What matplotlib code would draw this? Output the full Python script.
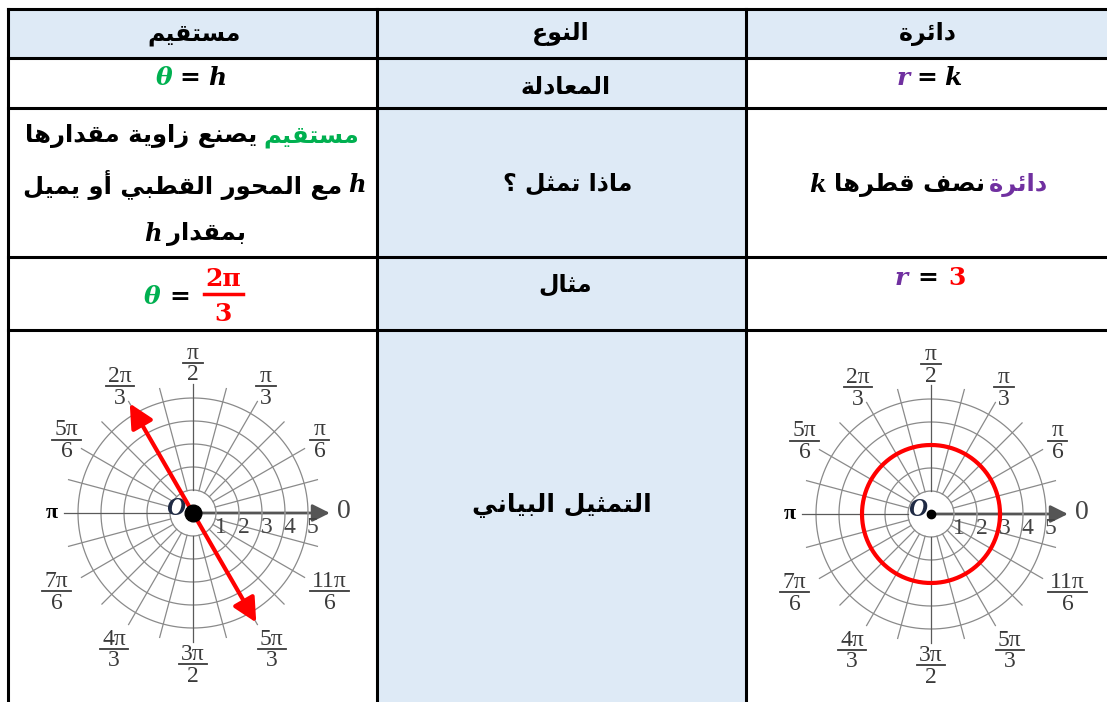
import numpy as np
import matplotlib
matplotlib.use("Agg")
import matplotlib.pyplot as plt
from matplotlib.patches import Rectangle, FancyArrowPatch

# Textos da tabela (ordem logica, da direita para a esquerda)
CABECALHO = ["مستقيم", "النوع", "دائرة"]
LINHAS_MEIO = ["المعادلة", "ماذا تمثل ؟", "مثال", "التمثيل البياني"]
TEXTO_RETA = ["يصنع زاوية مقدارها", "مع المحور القطبي أو يميل", "بمقدار"]
TEXTO_CIRCULO = "نصف قطرها"

# Grelha polar
RAIOS = [1, 2, 3, 4, 5]
ANGULOS_GRELHA = np.arange(0, 360, 15)
ANGULOS_ROTULOS = [0, 30, 60, 90, 120, 150, 180, 210, 240, 270, 300, 330]
ROTULOS_NUM = ["0", "π", "π", "π", "2π", "5π", "π", "7π", "4π", "3π", "5π", "11π"]
ROTULOS_DEN = ["", "6", "3", "2", "3", "6", "", "6", "3", "2", "3", "6"]

# Exemplos
THETA_RETA = 2 * np.pi / 3
RAIO_CIRCULO = 3

VERDE = "#00B050"
ROXO = "#7030A0"
VERMELHO = "#FF0000"
AZUL = "#DEEAF6"
CINZA = "#8a8a8a"

# Formas de apresentacao arabes (isolada, final, inicial, medial)
_DUPLA = {'ئ': 0xFE89, 'ب': 0xFE8F, 'ت': 0xFE95, 'ث': 0xFE99, 'ج': 0xFE9D, 'ح': 0xFEA1,
          'خ': 0xFEA5, 'س': 0xFEB1, 'ش': 0xFEB5, 'ص': 0xFEB9, 'ض': 0xFEBD, 'ط': 0xFEC1,
          'ظ': 0xFEC5, 'ع': 0xFEC9, 'غ': 0xFECD, 'ف': 0xFED1, 'ق': 0xFED5, 'ك': 0xFED9,
          'ل': 0xFEDD, 'م': 0xFEE1, 'ن': 0xFEE5, 'ه': 0xFEE9, 'ي': 0xFEF1}
_DIREITA = {'آ': 0xFE81, 'أ': 0xFE83, 'ؤ': 0xFE85, 'إ': 0xFE87, 'ا': 0xFE8D, 'ة': 0xFE93,
            'د': 0xFEA9, 'ذ': 0xFEAB, 'ر': 0xFEAD, 'ز': 0xFEAF, 'و': 0xFEED, 'ى': 0xFEEF}
FORMAS = {}
for c, b in _DUPLA.items():
    FORMAS[c] = tuple(chr(b + i) for i in range(4))
for c, b in _DIREITA.items():
    FORMAS[c] = (chr(b), chr(b + 1))


def ar(s):
    # Junta as letras e inverte para a ordem visual (esquerda -> direita).
    res = []
    n = len(s)
    for i, c in enumerate(s):
        if c not in FORMAS:
            res.append(c)
            continue
        f = FORMAS[c]
        prev = s[i - 1] if i > 0 else ''
        nxt = s[i + 1] if i + 1 < n else ''
        jp = prev in FORMAS and len(FORMAS[prev]) == 4
        jn = len(f) == 4 and nxt in FORMAS
        if jp and jn:
            res.append(f[3])
        elif jp:
            res.append(f[1])
        elif jn:
            res.append(f[2])
        else:
            res.append(f[0])
    return ''.join(res)[::-1]


fig = plt.figure(figsize=(11.07, 7.02), dpi=100)
ax = fig.add_axes([0, 0, 1, 1])
ax.set_xlim(0, 1107)
ax.set_ylim(702, 0)
ax.axis("off")
renderer = fig.canvas.get_renderer()

ARAB = dict(family="DejaVu Sans", fontweight="bold")
MATH_I = dict(family="DejaVu Serif", fontweight="bold", style="italic")
MATH_U = dict(family="DejaVu Serif", fontweight="bold")
SERIF = "Liberation Serif"


def linha(cx, y, partes, size):
    # partes: (texto, cor, fonte) ou um numero para espaco em pixeis
    objs = []
    total = 0
    for p in partes:
        if isinstance(p, (int, float)):
            objs.append(p)
            total += p
            continue
        txt, cor, fonte = p
        t = ax.text(0, y, txt, color=cor, fontsize=size, ha="left", va="center", **fonte)
        w = t.get_window_extent(renderer=renderer).width
        objs.append((t, w))
        total += w
    x = cx - total / 2
    for o in objs:
        if isinstance(o, (int, float)):
            x += o
            continue
        t, w = o
        t.set_x(x)
        x += w


# Tabela
COL_X = [8, 377, 746, 1115]
ROW_Y = [9, 58, 108, 257, 330, 720]
ax.add_patch(Rectangle((COL_X[0], ROW_Y[0]), COL_X[3] - COL_X[0], ROW_Y[1] - ROW_Y[0],
                       facecolor=AZUL, edgecolor="none"))
ax.add_patch(Rectangle((COL_X[1], ROW_Y[1]), COL_X[2] - COL_X[1], ROW_Y[5] - ROW_Y[1],
                       facecolor=AZUL, edgecolor="none"))
for y in ROW_Y[:5]:
    ax.plot([COL_X[0], COL_X[3]], [y, y], color="black", lw=2.2, solid_capstyle="projecting")
for x in COL_X[:3]:
    ax.plot([x, x], [ROW_Y[0], ROW_Y[5]], color="black", lw=2.2, solid_capstyle="projecting")

# Cabecalho
linha(194, 34, [(ar(CABECALHO[0]), "black", ARAB)], 17)
linha(561, 34, [(ar(CABECALHO[1]), "black", ARAB)], 17)
linha(928, 34, [(ar(CABECALHO[2]), "black", ARAB)], 17)

# Coluna do meio
linha(566, 86, [(ar(LINHAS_MEIO[0]), "black", ARAB)], 17)
linha(568, 184, [(ar(LINHAS_MEIO[1]), "black", ARAB)], 17)
linha(565, 285, [(ar(LINHAS_MEIO[2]), "black", ARAB)], 17)
linha(562, 505, [(ar(LINHAS_MEIO[3]), "black", ARAB)], 18)

# Equacoes
linha(191, 78, [("θ", VERDE, MATH_I), 7, ("=", "black", MATH_U), 7, ("h", "black", MATH_I)], 18)
linha(929, 78, [("r", ROXO, MATH_I), 7, ("=", "black", MATH_U), 7, ("k", "black", MATH_I)], 18)

# O que representa
linha(192, 136, [(ar(TEXTO_RETA[0]), "black", ARAB), 6, (ar(CABECALHO[0]), VERDE, ARAB)], 17.5)
linha(194, 185, [(ar(TEXTO_RETA[1]), "black", ARAB), 6, ("h", "black", MATH_I)], 17.5)
linha(195, 234, [("h", "black", MATH_I), 6, (ar(TEXTO_RETA[2]), "black", ARAB)], 17.5)
linha(929, 185, [("k", "black", MATH_I), 8, (ar(TEXTO_CIRCULO), "black", ARAB), 4,
                 (ar(CABECALHO[2]), ROXO, ARAB)], 17.5)

# Exemplos
linha(167, 297, [("θ", VERDE, MATH_I), 9, ("=", "black", MATH_U)], 18)
ax.text(223, 279, "2π", color=VERMELHO, fontsize=18, ha="center", va="center", **MATH_U)
ax.plot([204, 243], [294, 294], color=VERMELHO, lw=2.5)
ax.text(223, 314, "3", color=VERMELHO, fontsize=18, ha="center", va="center", **MATH_U)
linha(930, 278, [("r", ROXO, MATH_I), 10, ("=", "black", MATH_U), 10,
                 (str(RAIO_CIRCULO), VERMELHO, MATH_U)], 18)


def grelha(cx, cy, letra_o):
    esc = 23.0
    w, h = 7.5, 8.0
    a = fig.add_axes([(cx - w * esc) / 1107, (702 - (cy + h * esc)) / 702,
                      2 * w * esc / 1107, 2 * h * esc / 702])
    a.set_xlim(-w, w)
    a.set_ylim(-h, h)
    a.axis("off")
    a.patch.set_alpha(0)
    t = np.linspace(0, 2 * np.pi, 300)
    for r in RAIOS:
        a.plot(r * np.cos(t), r * np.sin(t), color=CINZA, lw=0.9)
    for ang in ANGULOS_GRELHA:
        if ang == 0:
            continue
        th = np.radians(ang)
        cor = "#5a5a5a" if ang % 90 == 0 else CINZA
        a.plot([np.cos(th), 5.6 * np.cos(th)], [np.sin(th), 5.6 * np.sin(th)], color=cor, lw=0.9)
    a.add_patch(FancyArrowPatch((0, 0), (5.95, 0), arrowstyle="-|>,head_length=7,head_width=3.5",
                                color="#555555", lw=2, mutation_scale=1.5, shrinkA=0, shrinkB=0))
    for ang, num, den in zip(ANGULOS_ROTULOS, ROTULOS_NUM, ROTULOS_DEN):
        th = np.radians(ang)
        if ang == 0:
            a.text(6.55, 0.05, num, ha="center", va="center", fontsize=20, color="#444444", family=SERIF)
            continue
        if ang == 180:
            a.text(-6.15, 0.0, num, ha="center", va="center", fontsize=16, color="black",
                   family=SERIF, fontweight="bold")
            continue
        if ang < 180:
            rr = 6.35 if ang != 90 else 6.5
        else:
            rr = 6.85 if ang != 270 else 6.6
        x, y = rr * np.cos(th), rr * np.sin(th)
        a.text(x, y + 0.45, num, ha="center", va="center", fontsize=17, color="#3a3a3a", family=SERIF)
        a.text(x, y - 0.5, den, ha="center", va="center", fontsize=17, color="#3a3a3a", family=SERIF)
        meia = 0.42 if len(num) == 1 else (0.62 if len(num) == 2 else 0.85)
        a.plot([x - meia, x + meia], [y + 0.02, y + 0.02], color="#3a3a3a", lw=1.3)
    for r in RAIOS:
        a.text(r + 0.2, -0.62, str(r), ha="center", va="center", fontsize=17,
               color="#444444", family=SERIF)
    a.text(-0.6 if letra_o else -0.75, 0.2, "O", ha="center", va="center", fontsize=19, style="italic",
           fontweight="bold", color="#1f2a44", family=SERIF)
    return a


a1 = grelha(193, 513, False)
rl = 5.5
a1.add_patch(FancyArrowPatch((-rl * np.cos(THETA_RETA), -rl * np.sin(THETA_RETA)),
                             (rl * np.cos(THETA_RETA), rl * np.sin(THETA_RETA)),
                             arrowstyle="<|-|>,head_length=9,head_width=4.5", color=VERMELHO,
                             lw=3, mutation_scale=1.6, shrinkA=0, shrinkB=0, zorder=5))
a1.plot([0], [0], "o", color="black", ms=12, zorder=6)

a2 = grelha(931, 514, True)
t = np.linspace(0, 2 * np.pi, 400)
a2.plot(RAIO_CIRCULO * np.cos(t), RAIO_CIRCULO * np.sin(t), color=VERMELHO, lw=3, zorder=5)
a2.plot([0], [0], "o", color="black", ms=6, zorder=6)

fig.savefig("out.png", dpi=100)
